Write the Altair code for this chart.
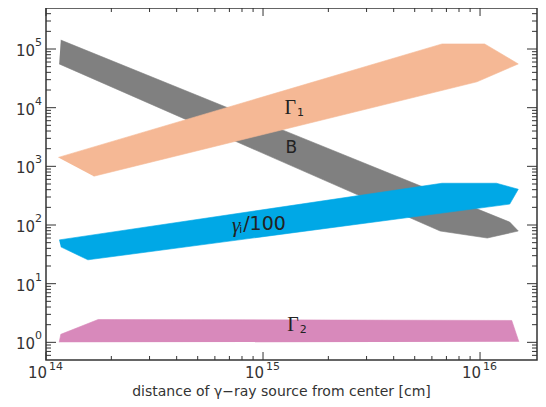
import math
import altair as alt
import pandas as pd

# ---- band outlines (data coordinates) ----
b_x = [1.17e14, 1.37e16, 1.50e16, 1.08e16, 6.55e15, 1.15e14]
b_y = [1.42e5, 112, 79, 60, 79, 5.57e4]

g1_x = [1.14e14, 6.68e15, 1.05e16, 1.50e16, 9.68e15, 1.66e14]
g1_y = [1420, 1.22e5, 1.22e5, 5.57e4, 2.76e4, 678]

gi_x = [1.15e14, 6.68e15, 1.19e16, 1.50e16, 1.37e16, 1.56e14, 1.17e14]
gi_y = [55.7, 515, 515, 407, 227, 25.5, 42.4]

g2_x = [1.15e14, 1.17e14, 1.74e14, 1.40e16, 1.51e16]
g2_y = [1.0, 1.37, 2.45, 2.36, 1.02]

# ---- band labels (main glyph, subscript, trailing text) ----
lab_main = ["Γ", "B", "γ", "Γ"]
lab_sub = ["1", "", "i", "2"]
lab_tail = ["", "", "/100", ""]
lab_x = [1.36e15, 1.35e15, 9.4e14, 1.40e15]
lab_y = [1.0e4, 2.02e3, 104, 1.94]

# ---- axis ticks and tick labels ----
x_major = [1e14, 1e15, 1e16]
x_exp = ["14", "15", "16"]
x_minor = [m * 10.0 ** e for e in (14, 15) for m in range(2, 10)]
y_major = [1e0, 1e1, 1e2, 1e3, 1e4, 1e5]
y_exp = ["0", "1", "2", "3", "4", "5"]
y_minor = [m / 10 for m in range(6, 10)] + \
          [m * 10.0 ** e for e in range(0, 5) for m in range(2, 10)] + [2e5, 3e5, 4e5]

x_title = "distance of γ−ray source from center [cm]"

W, H = 491, 352
XMIN, XMAX = 1e14, 1.83e16
YMIN, YMAX = 0.5, 5e5
xs = alt.Scale(type="log", domain=[XMIN, XMAX], nice=False)
ys = alt.Scale(type="log", domain=[YMIN, YMAX], nice=False)
XDEC = math.log10(XMAX / XMIN)
YDEC = math.log10(YMAX / YMIN)

FONT = "DejaVu Sans"
AXC = "#333333"
TXC = "#222222"

xaxis = alt.Axis(labels=False, domain=False, ticks=False, grid=False,
                 title=x_title, titleFont=FONT, titleFontSize=14, titleFontWeight="normal",
                 titleColor=AXC, titleX=235, titleY=35, titleAlign="center",
                 titleBaseline="alphabetic", titleAnchor="start")
yaxis = alt.Axis(labels=False, domain=False, ticks=False, grid=False, title=None)


def X(f):
    return alt.X(f, type="quantitative", scale=xs, axis=xaxis)


def Y(f):
    return alt.Y(f, type="quantitative", scale=ys, axis=yaxis)


def band(xv, yv, color):
    df = pd.DataFrame({"x": xv, "y": yv, "i": list(range(len(xv)))})
    return alt.Chart(df).mark_line(fill=color, stroke=color, strokeWidth=0.6).encode(
        x=X("x"), y=Y("y"), order=alt.Order("i:Q"))


layers = [
    band(b_x, b_y, "#808080"),
    band(g1_x, g1_y, "#F5B895"),
    band(gi_x, gi_y, "#00A8E6"),
    band(g2_x, g2_y, "#D889BB"),
]


def txt(t, xv, yv, **kw):
    d = pd.DataFrame({"t": [t], "x": [xv], "y": [yv]})
    return alt.Chart(d).mark_text(color=TXC, baseline="middle", **kw).encode(
        x=X("x"), y=Y("y"), text="t:N")


for m, s, tl, xv, yv in zip(lab_main, lab_sub, lab_tail, lab_x, lab_y):
    if m == "Γ":
        layers.append(txt(m, xv, yv, font="Liberation Serif", fontSize=20, align="right", dx=4))
        layers.append(txt(s, xv, yv, font=FONT, fontSize=11, align="left", dx=5, dy=5))
    elif m == "γ":
        layers.append(txt(m, xv, yv, font="Liberation Serif", fontSize=21, fontStyle="italic",
                          align="right", dx=-17, dy=2))
        layers.append(txt(s, xv, yv, font=FONT, fontSize=11, align="left", dx=-18, dy=6))
        layers.append(txt(tl, xv, yv, font=FONT, fontSize=19, align="left", dx=-14))
    else:
        layers.append(txt(m, xv, yv, font=FONT, fontSize=17, align="center"))

# tick labels "10" with raised exponent
xl = pd.DataFrame({"v": x_major, "e": x_exp, "b": ["10"] * len(x_major)})
layers.append(alt.Chart(xl).mark_text(font=FONT, fontSize=15, color=AXC, align="right",
                                      baseline="alphabetic", dx=1).encode(
    x=X("v"), y=alt.value(H + 18), text="b:N"))
layers.append(alt.Chart(xl).mark_text(font=FONT, fontSize=11, color=AXC, align="left",
                                      baseline="alphabetic", dx=3).encode(
    x=X("v"), y=alt.value(H + 10), text="e:N"))
yl = pd.DataFrame({"v": y_major, "e": y_exp, "b": ["10"] * len(y_major)})
layers.append(alt.Chart(yl).mark_text(font=FONT, fontSize=15, color=AXC, align="right",
                                      baseline="alphabetic", dy=7).encode(
    y=Y("v"), x=alt.value(-11), text="b:N"))
layers.append(alt.Chart(yl).mark_text(font=FONT, fontSize=11, color=AXC, align="left",
                                      baseline="alphabetic", dy=-3).encode(
    y=Y("v"), x=alt.value(-11), text="e:N"))


def xticks(vals, length):
    f = 10 ** (YDEC * length / H)
    bot = pd.DataFrame({"v": vals, "a": [YMIN] * len(vals), "b": [YMIN * f] * len(vals)})
    top = pd.DataFrame({"v": vals, "a": [YMAX] * len(vals), "b": [YMAX / f] * len(vals)})
    out = []
    for df in (bot, top):
        out.append(alt.Chart(df).mark_rule(color=AXC, strokeWidth=1).encode(
            x=X("v"), y=Y("a"), y2="b:Q"))
    return out


def yticks(vals, length):
    f = 10 ** (XDEC * length / W)
    left = pd.DataFrame({"v": vals, "a": [XMIN] * len(vals), "b": [XMIN * f] * len(vals)})
    right = pd.DataFrame({"v": vals, "a": [XMAX] * len(vals), "b": [XMAX / f] * len(vals)})
    out = []
    for df in (left, right):
        out.append(alt.Chart(df).mark_rule(color=AXC, strokeWidth=1).encode(
            y=Y("v"), x=X("a"), x2="b:Q"))
    return out


layers += xticks(x_major, 8) + xticks(x_minor, 4) + yticks(y_major, 10) + yticks(y_minor, 5)

chart = alt.layer(*layers).properties(
    width=W, height=H,
    autosize=alt.AutoSizeParams(type="none"),
    padding={"left": 38, "top": 0, "right": 1, "bottom": 39},
).configure_view(stroke=AXC, strokeWidth=1.5)

chart.save("out.html", embed_options={"renderer": "svg", "actions": False})
